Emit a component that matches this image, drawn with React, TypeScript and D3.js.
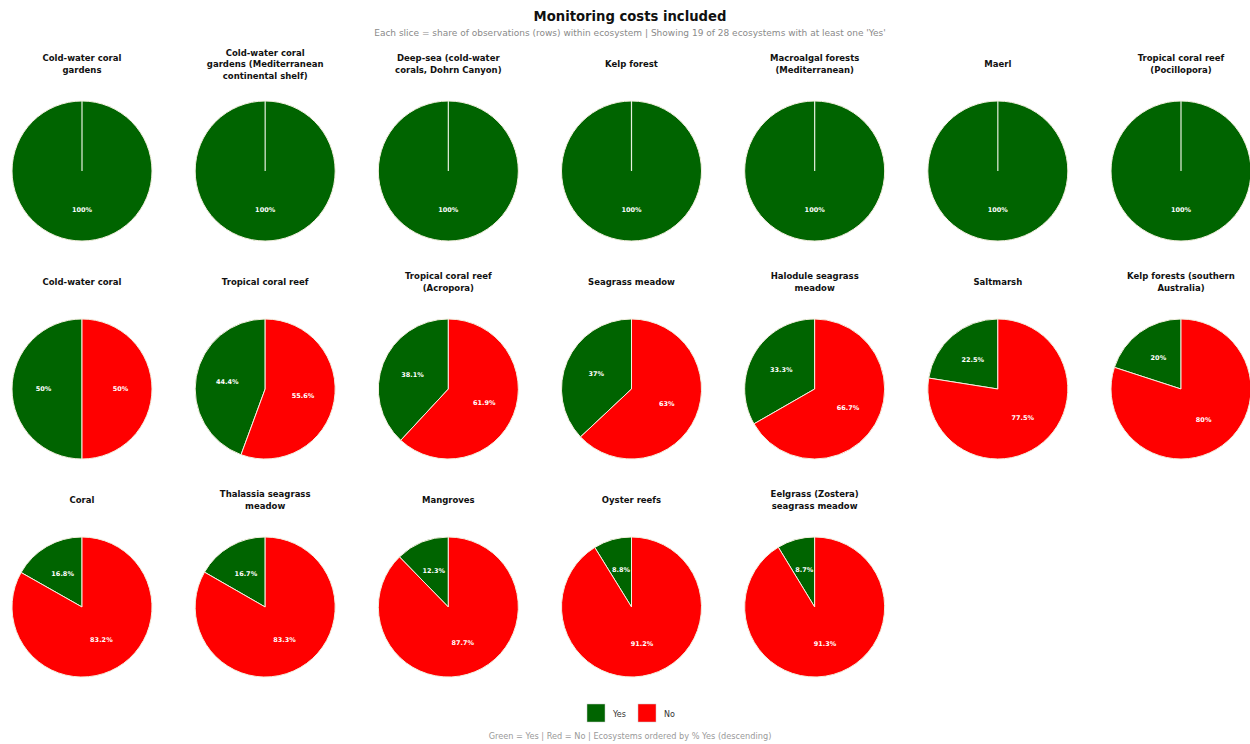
import * as d3 from "d3";

const ecosystems = [
  "Cold-water coral\ngardens",
  "Cold-water coral\ngardens (Mediterranean\ncontinental shelf)",
  "Deep-sea (cold-water\ncorals, Dohrn Canyon)",
  "Kelp forest",
  "Macroalgal forests\n(Mediterranean)",
  "Maerl",
  "Tropical coral reef\n(Pocillopora)",
  "Cold-water coral",
  "Tropical coral reef",
  "Tropical coral reef\n(Acropora)",
  "Seagrass meadow",
  "Halodule seagrass\nmeadow",
  "Saltmarsh",
  "Kelp forests (southern\nAustralia)",
  "Coral",
  "Thalassia seagrass\nmeadow",
  "Mangroves",
  "Oyster reefs",
  "Eelgrass (Zostera)\nseagrass meadow",
];

const yesShare = [100, 100, 100, 100, 100, 100, 100, 50, 44.4, 38.1, 37, 33.3, 22.5, 20, 16.8, 16.7, 12.3, 8.8, 8.7];
const noShare = [0, 0, 0, 0, 0, 0, 0, 50, 55.6, 61.9, 63, 66.7, 77.5, 80, 83.2, 83.3, 87.7, 91.2, 91.3];

const categories = ["Yes", "No"];
const colours = ["#006400", "#ff0000"];

const W = 1250;
const H = 744;
const COLS = 7;
const R = 70;
const FONT = "'DejaVu Sans', sans-serif";

function fmt(v: number) {
  return `${+v.toFixed(1)}%`;
}

export default function App() {
  const colX = d3.scalePoint<number>().domain(d3.range(COLS)).range([82, 1181]);
  const rowY = d3.scalePoint<number>().domain([0, 1, 2]).range([171, 607]);
  const color = d3.scaleOrdinal<string, string>().domain(categories).range(colours);

  // matplotlib style: startangle 90, counterclockwise -> first slice goes left from 12 o'clock
  const pie = d3
    .pie<number>()
    .sort(null)
    .value((d) => d);
  const arc = d3.arc<d3.PieArcDatum<number>>().innerRadius(0).outerRadius(R);
  const labelArc = d3
    .arc<d3.PieArcDatum<number>>()
    .innerRadius(R * 0.55)
    .outerRadius(R * 0.55);

  return (
    <svg
      width={W}
      height={H}
      style={{ position: "absolute", left: 0, top: 0, background: "#fff" }}
      fontFamily={FONT}
    >
      <text x={630} y={21} textAnchor="middle" fontSize={13.2} fontWeight="bold" fill="#111">
        Monitoring costs included
      </text>
      <text x={630} y={36} textAnchor="middle" fontSize={9} fill="#8a8a8a">
        Each slice = share of observations (rows) within ecosystem  |  Showing 19 of 28 ecosystems with at least one 'Yes'
      </text>

      {ecosystems.map((name, i) => {
        const cx = colX(i % COLS)!;
        const cy = rowY(Math.floor(i / COLS))!;
        const values = [yesShare[i], noShare[i]];
        const total = d3.sum(values);
        const theta = (yesShare[i] / total) * 2 * Math.PI;
        const arcs = pie.startAngle(-theta).endAngle(2 * Math.PI - theta)(values);
        const lines = name.split("\n");
        const titleY = cy - 107;
        return (
          <g key={name}>
            <text
              x={cx}
              y={titleY - ((lines.length - 1) * 11.5) / 2}
              textAnchor="middle"
              fontSize={8.5}
              fontWeight="bold"
              fill="#111"
              dominantBaseline="middle"
            >
              {lines.map((l, j) => (
                <tspan key={j} x={cx} dy={j === 0 ? 0 : 11.5}>
                  {l}
                </tspan>
              ))}
            </text>
            <g transform={`translate(${cx},${cy})`}>
              {arcs.map((a, j) =>
                a.value > 0 ? (
                  <path
                    key={j}
                    d={arc(a) ?? ""}
                    fill={color(categories[j])}
                    stroke="#f4f0e0"
                    strokeWidth={1}
                  />
                ) : null
              )}
              {values.some((v) => v === 0) && (
                <line x1={0} y1={0} x2={0} y2={-R} stroke="#e8f0e0" strokeWidth={1.2} />
              )}
              {arcs.map((a, j) => {
                if (a.value <= 0) return null;
                const [lx, ly] = labelArc.centroid(a);
                return (
                  <text
                    key={`l${j}`}
                    x={lx}
                    y={ly}
                    textAnchor="middle"
                    dominantBaseline="central"
                    fontSize={6.5}
                    fontWeight="bold"
                    fill="#fff"
                  >
                    {fmt(a.value)}
                  </text>
                );
              })}
            </g>
          </g>
        );
      })}

      <g>
        {categories.map((c, j) => {
          const x0 = 587 + j * 51;
          return (
            <g key={c}>
              <rect x={x0} y={704} width={18} height={18} fill={color(c)} stroke="#ccc" strokeWidth={0.5} />
              <text x={x0 + 26} y={714} fontSize={8} fill="#333" dominantBaseline="middle">
                {c}
              </text>
            </g>
          );
        })}
      </g>
      <text x={630} y={739} textAnchor="middle" fontSize={8.2} fill="#999">
        Green = Yes  |  Red = No  |  Ecosystems ordered by % Yes (descending)
      </text>
    </svg>
  );
}
